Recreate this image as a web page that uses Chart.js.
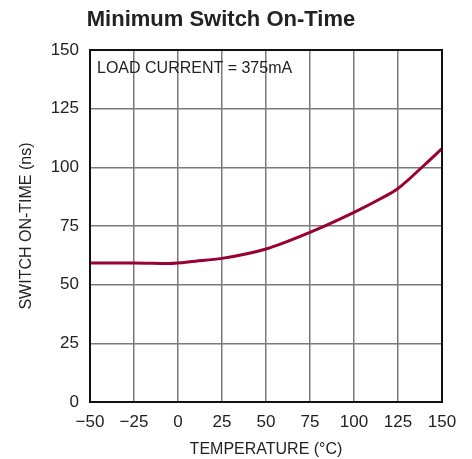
<!DOCTYPE html>
<html><head><meta charset="utf-8">
<script src="https://cdn.jsdelivr.net/npm/chart.js@4/dist/chart.umd.min.js"></script>
<style>html,body{margin:0;padding:0;background:#fff}#wrap{width:472px;height:459px}</style>
</head><body><div id="wrap"><canvas id="c" width="472" height="459"></canvas></div>
<script>
const temperatures = [-50, -25, -5, 10, 25, 50, 75, 100, 115, 125, 140, 150];
const onTimeNs = [59.2, 59.2, 59.0, 60.0, 61.2, 65.2, 72.3, 80.8, 86.6, 91.0, 101.0, 108.0];
const xTicks = [-50, -25, 0, 25, 50, 75, 100, 125, 150];
const yTicks = [0, 25, 50, 75, 100, 125, 150];
const titleText = 'Minimum Switch On-Time';
const noteText = 'LOAD CURRENT = 375mA';

const FONT = '"Liberation Sans Narrow", "Arial Narrow", "Liberation Sans", sans-serif';
const gridColor = '#7a7a7a';

const notePlugin = {
  id: 'note',
  afterDatasetsDraw(chart) {
    const {ctx, chartArea} = chart;
    ctx.save();
    ctx.font = '16px ' + FONT;
    ctx.fillStyle = '#222';
    ctx.textBaseline = 'middle';
    ctx.textAlign = 'left';
    ctx.fillText(noteText, chartArea.left + 7, chartArea.top + 19);
    ctx.restore();
  }
};
const borderPlugin = {
  id: 'frame',
  afterDatasetsDraw(chart) {
    const {ctx, chartArea} = chart;
    ctx.save();
    ctx.strokeStyle = '#111';
    ctx.lineWidth = 2;
    ctx.strokeRect(chartArea.left, chartArea.top, chartArea.right - chartArea.left, chartArea.bottom - chartArea.top);
    ctx.restore();
  }
};

new Chart(document.getElementById('c'), {
  type: 'line',
  data: {
    datasets: [{
      data: temperatures.map((t, i) => ({x: t, y: onTimeNs[i]})),
      borderColor: '#990033',
      borderWidth: 3,
      pointRadius: 0,
      cubicInterpolationMode: 'monotone',
      fill: false
    }]
  },
  options: {
    responsive: false,
    animation: false,
    devicePixelRatio: 1,
    layout: {padding: {left: 0, right: 30, top: 0, bottom: 0}},
    plugins: {
      legend: {display: false},
      tooltip: {enabled: false},
      title: {
        display: true,
        text: titleText,
        color: '#222',
        font: {family: FONT, size: 22, weight: 'bold'},
        padding: {top: 7, bottom: 16.6}
      }
    },
    scales: {
      x: {
        type: 'linear',
        min: -50, max: 150,
        afterBuildTicks: s => { s.ticks = xTicks.map(v => ({value: v})); },
        afterFit: s => { s.height = 57; },
        grid: {color: gridColor, lineWidth: 1.5, drawTicks: false},
        border: {display: false},
        ticks: {
          color: '#222', padding: 10, maxRotation: 0,
          font: {family: FONT, size: 17},
          callback: v => (v < 0 ? '\u2212' + Math.abs(v) : String(v))
        },
        title: {display: true, text: 'TEMPERATURE (°C)', color: '#222', font: {family: FONT, size: 16}, padding: {top: 2, bottom: 0}}
      },
      y: {
        type: 'linear',
        min: 0, max: 150,
        afterBuildTicks: s => { s.ticks = yTicks.map(v => ({value: v})); },
        afterFit: s => { s.width = 90; },
        grid: {color: gridColor, lineWidth: 1.5, drawTicks: false},
        border: {display: false},
        ticks: {color: '#222', padding: 11, font: {family: FONT, size: 17}},
        title: {display: true, text: 'SWITCH ON-TIME (ns)', color: '#222', font: {family: FONT, size: 16}, padding: {top: 17, bottom: 0}}
      }
    }
  },
  plugins: [notePlugin, borderPlugin]
});
</script>
</body></html>
